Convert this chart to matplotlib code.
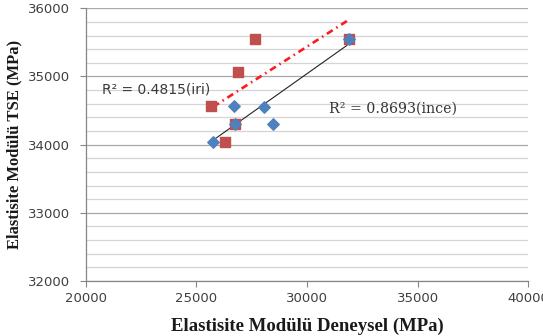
import matplotlib
matplotlib.use('Agg')
import matplotlib.pyplot as plt
from matplotlib.ticker import MultipleLocator

# ince agrega (mavi)
ince_x = [25740, 26700, 26760, 28070, 28460, 31900]
ince_y = [34045, 34560, 34300, 34550, 34300, 35550]

# iri agrega (kirmizi)
iri_x = [25650, 26280, 26760, 26880, 27650, 31900]
iri_y = [34570, 34045, 34300, 35070, 35550, 35550]

# trend cizgileri (grafikten okunan uc noktalar)
iri_trend_x = [25760, 31860]
iri_trend_y = [34555, 35825]
ince_trend_x = [25800, 31800]
ince_trend_y = [34075, 35455]

fig = plt.figure(figsize=(5.43, 3.36), dpi=100)
ax = fig.add_axes([0.1578, 0.1637, 0.8152, 0.8116])

ax.set_xlim(20000, 40000)
ax.set_ylim(32000, 36000)
ax.xaxis.set_major_locator(MultipleLocator(5000))
ax.yaxis.set_major_locator(MultipleLocator(1000))
ax.yaxis.set_minor_locator(MultipleLocator(200))

ax.grid(axis='y', which='minor', color='#d4d4d4', lw=0.9)
ax.grid(axis='y', which='major', color='#a8a8a8', lw=0.9)
ax.set_axisbelow(True)

for s in ['top', 'right']:
    ax.spines[s].set_visible(False)
for s in ['left', 'bottom']:
    ax.spines[s].set_color('#868686')
    ax.spines[s].set_linewidth(0.9)

ax.tick_params(which='major', length=4, color='#868686', labelsize=9.5,
               labelcolor='#404040')
ax.tick_params(axis='y', pad=7)
ax.tick_params(axis='x', pad=4)
ax.tick_params(which='minor', length=0)
for lab in ax.get_xticklabels() + ax.get_yticklabels():
    lab.set_family('DejaVu Sans')

# trend cizgileri
ax.plot(iri_trend_x, iri_trend_y, color='#ff1a1a', lw=1.9,
        dashes=(2.6, 1.6, 0.6, 1.6), zorder=2)
ax.plot(ince_trend_x, ince_trend_y, color='#222222', lw=0.8, zorder=2)

# noktalar
ax.scatter(iri_x, iri_y, marker='s', s=60, color='#c0504d', zorder=3)
ax.scatter(ince_x, ince_y, marker='D', s=34, color='#4f81bd', zorder=4)

ax.text(20750, 34805, 'R² = 0.4815(iri)', fontsize=10, color='#3a3a3a',
        family='DejaVu Sans', va='center')
ax.text(31000, 34530, 'R² = 0.8693(ince)', fontsize=10.2, color='#333333',
        family='DejaVu Serif', va='center')

ax.set_xlabel('Elastisite Modülü Deneysel (MPa)', family='Liberation Serif',
              fontweight='bold', fontsize=13.5, color='#1a1a1a', labelpad=9)
ax.set_ylabel('Elastisite Modülü TSE (MPa)', family='Liberation Serif',
              fontweight='bold', fontsize=12, color='#1a1a1a', labelpad=4)

fig.savefig('out.png', dpi=100)
